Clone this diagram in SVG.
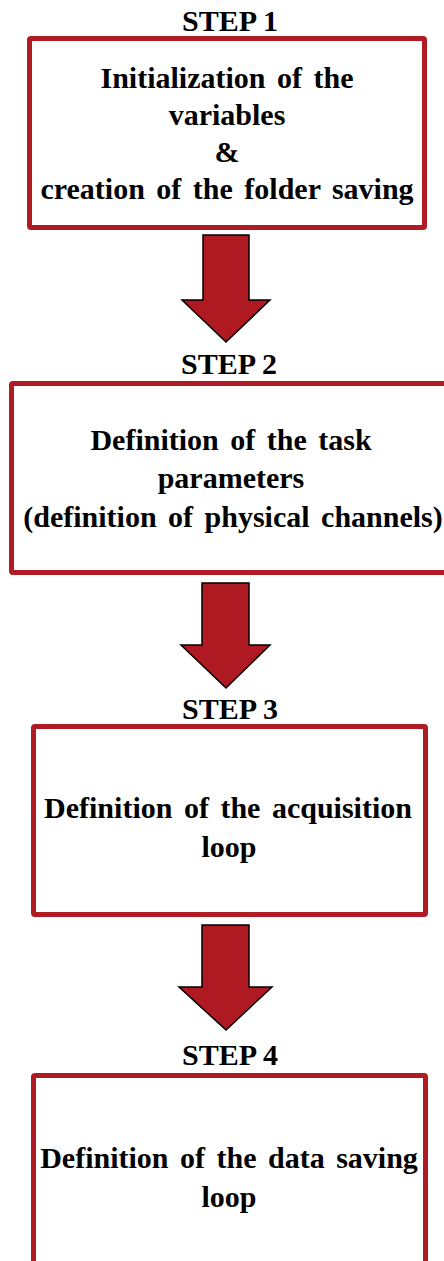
<svg xmlns="http://www.w3.org/2000/svg" width="444" height="1261" viewBox="0 0 444 1261">
  <style>
    .box { fill: #ffffff; stroke: #b11b24; stroke-width: 5; stroke-linejoin: round; }
    .arrow { fill: #af1a22; stroke: #000000; stroke-width: 1.5; stroke-linejoin: miter; }
    .label { font-family: "Liberation Serif", "Times New Roman", serif; font-weight: bold; font-size: 30px; fill: #000000; text-anchor: middle; word-spacing: 4px; }
    .step { font-family: "Liberation Serif", "Times New Roman", serif; font-weight: bold; font-size: 30px; fill: #000000; text-anchor: middle; }
  </style>

  <rect width="444" height="1261" fill="#ffffff"/>

  <!-- Step 1 -->
  <g id="step1">
    <text class="step" x="230" y="31">STEP 1</text>
    <rect class="box" x="29.5" y="38.5" width="395" height="189" rx="1.5"/>
    <text class="label" x="227" y="88">Initialization of the</text>
    <text class="label" x="227" y="125">variables</text>
    <text class="label" x="227" y="162">&amp;</text>
    <text class="label" x="227" y="199">creation of the folder saving</text>
  </g>

  <!-- Step 2 -->
  <g id="step2">
    <text class="step" x="229" y="374">STEP 2</text>
    <rect class="box" x="11.5" y="383.5" width="440" height="189" rx="1.5"/>
    <text class="label" x="231" y="450">Definition of the task</text>
    <text class="label" x="231" y="488">parameters</text>
    <text class="label" x="233" y="527">(definition of physical channels)</text>
  </g>

  <!-- Step 3 -->
  <g id="step3">
    <text class="step" x="230" y="719">STEP 3</text>
    <rect class="box" x="33.5" y="726.5" width="392" height="188" rx="1.5"/>
    <text class="label" x="228" y="818">Definition of the acquisition</text>
    <text class="label" x="229" y="857">loop</text>
  </g>

  <!-- Step 4 -->
  <g id="step4">
    <text class="step" x="230" y="1065">STEP 4</text>
    <rect class="box" x="33.5" y="1075.5" width="392" height="200" rx="1.5"/>
    <text class="label" x="229" y="1168">Definition of the data saving</text>
    <text class="label" x="229" y="1207">loop</text>
  </g>

  <!-- Block arrows between steps -->
  <g id="connectors">
    <polygon class="arrow" points="203,235 249,235 249,300 270,300 226,342 182,300 203,300"/>
    <polygon class="arrow" points="202,583 249,583 249,645 270,645 226,688 181,645 202,645"/>
    <polygon class="arrow" points="202,925 249,925 249,987 272,987 226,1030 179,987 202,987"/>
  </g>
</svg>
